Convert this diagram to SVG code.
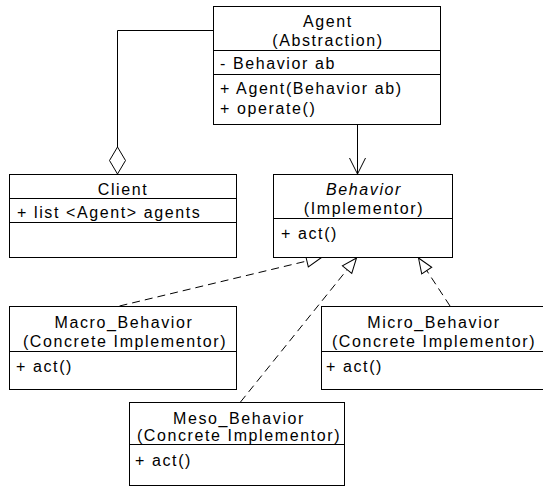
<svg xmlns="http://www.w3.org/2000/svg" width="543" height="487" viewBox="0 0 543 487">
<defs>
<style>
.box{fill:#fff;stroke:#000;stroke-width:1}
.ln{stroke:#000;stroke-width:1;fill:none}
.dash{stroke:#000;stroke-width:1;fill:none;stroke-dasharray:8 5}
text{font-family:"Liberation Sans",Arial,sans-serif;font-size:16px;letter-spacing:1.6px;fill:#000}
.c{text-anchor:middle}
.i{font-style:italic}
</style>
<marker id="tri" markerUnits="userSpaceOnUse" markerWidth="20" markerHeight="20" refX="16" refY="7" orient="auto" viewBox="0 0 20 14">
<path d="M16,7 L1,1 L1,13 Z" fill="#fff" stroke="#000" stroke-width="1"/>
</marker>
</defs>
<rect width="543" height="487" fill="#fff"/>
<g id="connectors">
<polyline class="ln" points="213.5,30.5 117.5,30.5 117.5,147"/>
<polygon points="117.5,147 125.5,160.5 117.5,174 109.5,160.5" fill="#fff" stroke="#000" stroke-width="1"/>
<line class="ln" x1="357.5" y1="124.5" x2="357.5" y2="174"/>
<polyline class="ln" points="349.5,158 357.5,174 365.5,158"/>
<line class="dash" x1="119.5" y1="306" x2="321.5" y2="257.5" marker-end="url(#tri)"/>
<line class="dash" x1="240.5" y1="402" x2="356.5" y2="258" marker-end="url(#tri)"/>
<line class="dash" x1="450" y1="306" x2="418.5" y2="258" marker-end="url(#tri)"/>
</g>
<g id="agent">
<rect class="box" x="213.5" y="6.5" width="227" height="118"/>
<line class="ln" x1="213.5" y1="50.5" x2="440.5" y2="50.5"/>
<line class="ln" x1="213.5" y1="74.5" x2="440.5" y2="74.5"/>
<text class="c" x="328" y="27">Agent</text>
<text class="c" x="328" y="46">(Abstraction)</text>
<text x="220" y="69">- Behavior ab</text>
<text x="220" y="94">+ Agent(Behavior ab)</text>
<text x="220" y="114">+ operate()</text>
</g>
<g id="client">
<rect class="box" x="9.5" y="174.5" width="227" height="83"/>
<line class="ln" x1="9.5" y1="198.5" x2="236.5" y2="198.5"/>
<line class="ln" x1="9.5" y1="222.5" x2="236.5" y2="222.5"/>
<text class="c" x="123" y="195">Client</text>
<text x="17" y="218">+ list &lt;Agent&gt; agents</text>
</g>
<g id="behavior">
<rect class="box" x="273.5" y="174.5" width="179" height="83"/>
<line class="ln" x1="273.5" y1="218.5" x2="452.5" y2="218.5"/>
<text class="c i" x="364" y="195">Behavior</text>
<text class="c" x="364" y="214">(Implementor)</text>
<text x="281" y="239">+ act()</text>
</g>
<g id="macro">
<rect class="box" x="9.5" y="306.5" width="227" height="83"/>
<line class="ln" x1="9.5" y1="351.5" x2="236.5" y2="351.5"/>
<text class="c" x="124" y="328">Macro_Behavior</text>
<text class="c" x="125" y="347">(Concrete Implementor)</text>
<text x="16" y="372">+ act()</text>
</g>
<g id="micro">
<rect class="box" x="321.5" y="306.5" width="227" height="83"/>
<line class="ln" x1="321.5" y1="351.5" x2="548.5" y2="351.5"/>
<text class="c" x="434" y="328">Micro_Behavior</text>
<text class="c" x="434" y="347">(Concrete Implementor)</text>
<text x="326" y="372">+ act()</text>
</g>
<g id="meso">
<rect class="box" x="129.5" y="402.5" width="215" height="83"/>
<line class="ln" x1="129.5" y1="444.5" x2="344.5" y2="444.5"/>
<text class="c" x="239" y="424">Meso_Behavior</text>
<text class="c" x="239" y="441">(Concrete Implementor)</text>
<text x="135" y="466">+ act()</text>
</g>
</svg>
